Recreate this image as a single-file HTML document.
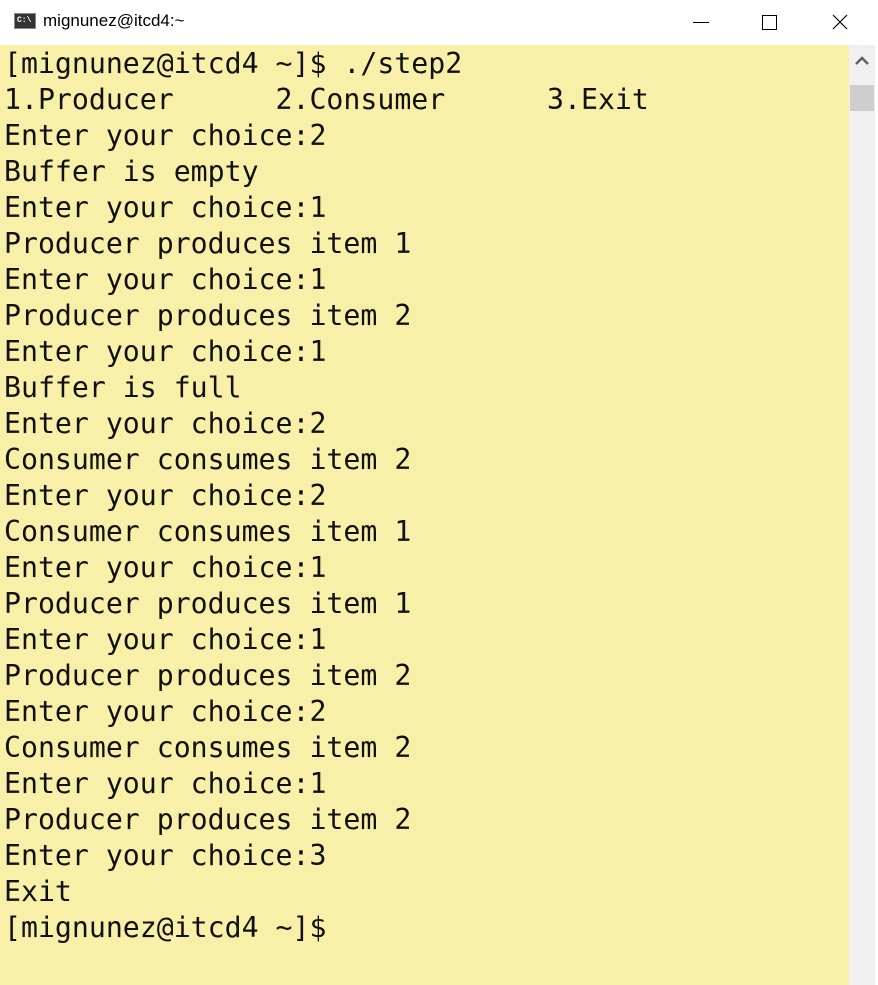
<!DOCTYPE html>
<html><head><style>
body{margin:0;width:878px;height:985px;overflow:hidden;background:#fff;position:relative;font-family:"Liberation Sans",sans-serif}
.title{position:absolute;left:0;top:0;width:878px;height:45px;background:#fff}
.icon{position:absolute;left:14px;top:13px;width:22px;height:16px;background:#333;border:1px solid #888;box-sizing:border-box}
.icon span{position:absolute;left:2px;top:2px;color:#fff;font:bold 8px "Liberation Mono",monospace}
.tt{position:absolute;left:43px;top:11px;font-size:17px;color:#000}
.term{position:absolute;left:0;top:45px;width:849px;height:940px;background:#f8f0a8}
pre{margin:0;position:absolute;left:4px;top:46px;font-family:"DejaVu Sans Mono","Liberation Mono",monospace;font-size:28.2px;line-height:36px;color:#111}
.sb{position:absolute;left:849px;top:45px;width:26px;height:940px;background:#f0f0f0}
.thumb{position:absolute;left:850px;top:85px;width:24px;height:26px;background:#cdcdcd}
.edge{position:absolute;left:875px;top:0;width:3px;height:985px;background:#fff}
</style></head><body>
<div class="title"><div class="icon"><span>C:\</span></div><div class="tt">mignunez@itcd4:~</div>
<div style="position:absolute;left:693px;top:22px;width:16px;height:1px;background:#000"></div>
<div style="position:absolute;left:762px;top:15px;width:13px;height:13px;border:1px solid #000"></div>
<svg style="position:absolute;left:832px;top:14px" width="16" height="16"><path d="M1 1L15 15M15 1L1 15" stroke="#000" stroke-width="1.2"/></svg>
</div>
<div class="term"></div>
<div class="sb"><svg style="position:absolute;left:6px;top:11px" width="14" height="10"><path d="M1 8L7 2L13 8" stroke="#606060" stroke-width="2.5" fill="none"/></svg></div>
<div class="thumb"></div>
<div class="edge"></div>
<pre>[mignunez@itcd4 ~]$ ./step2
1.Producer      2.Consumer      3.Exit
Enter your choice:2
Buffer is empty
Enter your choice:1
Producer produces item 1
Enter your choice:1
Producer produces item 2
Enter your choice:1
Buffer is full
Enter your choice:2
Consumer consumes item 2
Enter your choice:2
Consumer consumes item 1
Enter your choice:1
Producer produces item 1
Enter your choice:1
Producer produces item 2
Enter your choice:2
Consumer consumes item 2
Enter your choice:1
Producer produces item 2
Enter your choice:3
Exit
[mignunez@itcd4 ~]$</pre>
</body></html>
